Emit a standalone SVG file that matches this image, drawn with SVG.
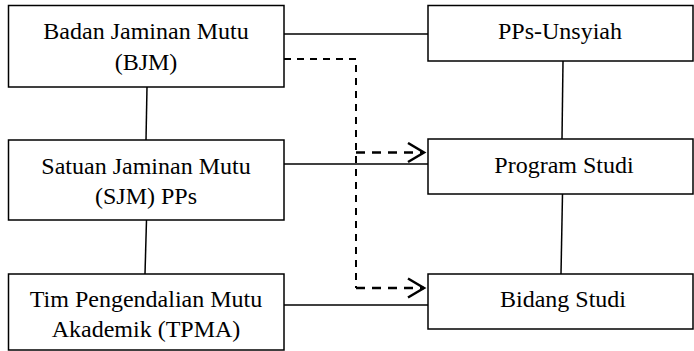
<svg xmlns="http://www.w3.org/2000/svg" width="694" height="351" viewBox="0 0 694 351">
<defs>
<style>
.box{fill:#fff;stroke:#000;stroke-width:1.5}
.t{font-family:"Liberation Serif","Times New Roman",serif;font-size:24px;fill:#000;text-anchor:middle}
.ln{stroke:#000;stroke-width:1.5;fill:none}
.ds{stroke:#000;stroke-width:2;fill:none;stroke-dasharray:7,6}
.da{stroke:#000;stroke-width:2.5;fill:none;stroke-dasharray:9,7}
</style>
<marker id="ah" markerWidth="20" markerHeight="24" refX="17" refY="11" orient="auto" markerUnits="userSpaceOnUse">
<path d="M1,1.5 L17,11 L1,20.5" fill="none" stroke="#000" stroke-width="2.5"/>
</marker>
</defs>
<g id="connectors">
<line class="ln" x1="284" y1="34" x2="428" y2="34"/>
<line class="ln" x1="147" y1="87" x2="146" y2="140"/>
<line class="ln" x1="284" y1="164" x2="428" y2="164"/>
<line class="ln" x1="146.5" y1="220" x2="145" y2="274"/>
<line class="ln" x1="284" y1="305" x2="428" y2="305"/>
<line class="ln" x1="563" y1="61" x2="562" y2="139"/>
<line class="ln" x1="562.5" y1="194" x2="561" y2="274"/>
<polyline class="ds" points="284,59 356,59 356,288"/>
<line class="da" x1="356" y1="288" x2="424" y2="288" marker-end="url(#ah)"/>
<line class="da" x1="356" y1="152.5" x2="424" y2="152.5" marker-end="url(#ah)"/>
</g>
<g id="bjm">
<rect class="box" x="8.5" y="5.5" width="275.5" height="81.5"/>
<text class="t" x="146" y="39">Badan Jaminan Mutu</text>
<text class="t" x="146" y="70">(BJM)</text>
</g>
<g id="sjm">
<rect class="box" x="8.5" y="140" width="275.5" height="80"/>
<text class="t" x="146" y="174">Satuan Jaminan Mutu</text>
<text class="t" x="146" y="204">(SJM) PPs</text>
</g>
<g id="tpma">
<rect class="box" x="8.5" y="274" width="275.5" height="76"/>
<text class="t" x="146" y="307">Tim Pengendalian Mutu</text>
<text class="t" x="146" y="337">Akademik (TPMA)</text>
</g>
<g id="pps">
<rect class="box" x="428" y="5.5" width="265" height="55.5"/>
<text class="t" x="560" y="39">PPs-Unsyiah</text>
</g>
<g id="prodi">
<rect class="box" x="428" y="139" width="265" height="55"/>
<text class="t" x="564" y="173">Program Studi</text>
</g>
<g id="bidang">
<rect class="box" x="428" y="274" width="265" height="55"/>
<text class="t" x="563" y="307">Bidang Studi</text>
</g>
</svg>
